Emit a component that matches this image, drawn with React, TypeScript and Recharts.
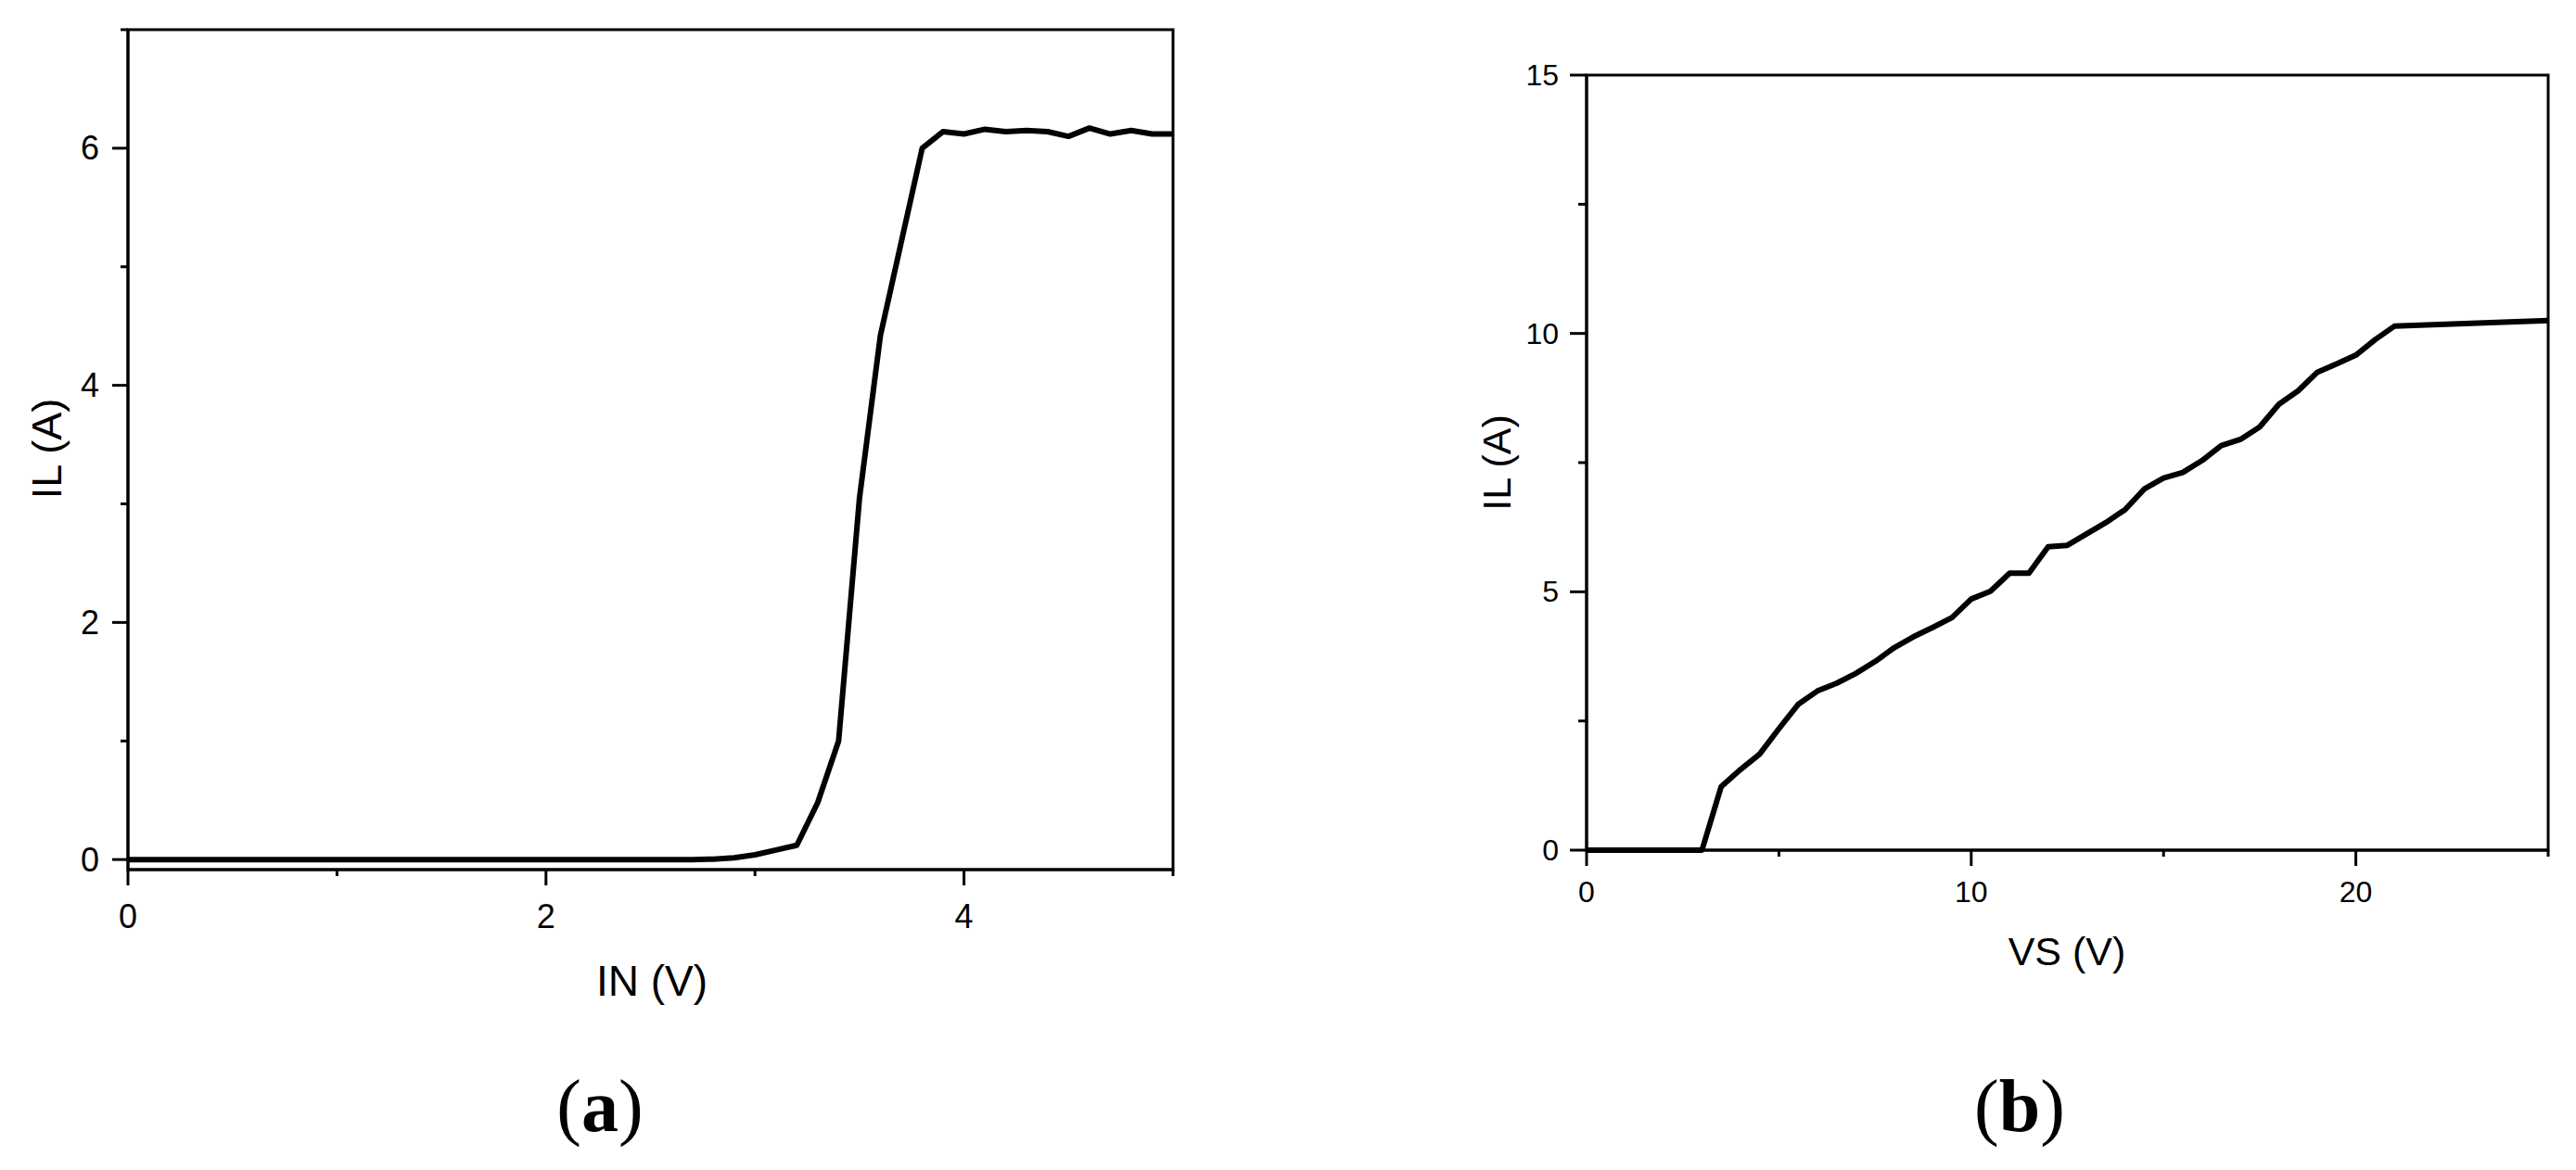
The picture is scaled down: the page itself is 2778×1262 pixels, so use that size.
import React from 'react';
import { LineChart, Line, XAxis, YAxis, ReferenceArea } from 'recharts';

// ---------- Data: panel (a) ----------
const inVoltage = [
  0, 0.1, 0.2, 0.3, 0.4, 0.5, 0.6, 0.7, 0.8, 0.9,
  1.0, 1.1, 1.2, 1.3, 1.4, 1.5, 1.6, 1.7, 1.8, 1.9,
  2.0, 2.1, 2.2, 2.3, 2.4, 2.5, 2.6, 2.7, 2.8, 2.9,
  3.0, 3.1, 3.2, 3.3, 3.4, 3.5, 3.6, 3.7, 3.8, 3.9,
  4.0, 4.1, 4.2, 4.3, 4.4, 4.5, 4.6, 4.7, 4.8, 4.9, 5.0,
];
const loadCurrentA = [
  0, 0, 0, 0, 0, 0, 0, 0, 0, 0,
  0, 0, 0, 0, 0, 0, 0, 0, 0, 0,
  0, 0, 0, 0, 0, 0, 0, 0, 0.003, 0.015,
  0.04, 0.08, 0.12, 0.48, 1.0, 3.05, 4.42, 5.21, 6.0, 6.14,
  6.12, 6.16, 6.14, 6.15, 6.14, 6.1, 6.17, 6.12, 6.15, 6.12, 6.12,
];
const aXTicks = [0, 1, 2, 3, 4, 5];
const aXLabeled = [0, 2, 4];
const aYTicks = [0, 1, 2, 3, 4, 5, 6, 7];
const aYLabeled = [0, 2, 4, 6];

// ---------- Data: panel (b) ----------
const supplyVoltage = [
  0, 0.5, 1, 1.5, 2, 2.5, 3, 3.5, 4, 4.5, 5, 5.5, 6, 6.5, 7, 7.5, 8, 8.5, 9, 9.5,
  10, 10.5, 11, 11.5, 12, 12.5, 13, 13.5, 14, 14.5, 15, 15.5, 16, 16.5, 17, 17.5,
  18, 18.5, 19, 19.5, 20, 20.5, 21, 25,
];
const loadCurrentB = [
  0, 0, 0, 0, 0, 0, 0, 1.23, 1.56, 1.86, 2.35, 2.82, 3.08, 3.23, 3.42, 3.65, 3.92, 4.13, 4.31, 4.5,
  4.86, 5.01, 5.36, 5.36, 5.87, 5.9, 6.12, 6.34, 6.59, 6.99, 7.2, 7.31, 7.54, 7.83, 7.95, 8.19,
  8.63, 8.89, 9.25, 9.41, 9.58, 9.88, 10.14, 10.25,
];
const bXTicks = [0, 5, 10, 15, 20, 25];
const bXLabeled = [0, 10, 20];
const bYTicks = [0, 2.5, 5, 7.5, 10, 12.5, 15];
const bYLabeled = [0, 5, 10, 15];

const dataA = inVoltage.map((x, i) => ({ x, y: loadCurrentA[i] }));
const dataB = supplyVoltage.map((x, i) => ({ x, y: loadCurrentB[i] }));

const SANS = '"Liberation Sans", Arial, sans-serif';
const SERIF = '"Liberation Serif", "Times New Roman", serif';

const makeXTick = (labeled: number[], fontSize: number, labelDy: number) => (props: any) => {
  const { x, y, payload } = props;
  const v = payload.value;
  const major = labeled.includes(v);
  return (
    <g>
      <line x1={x} x2={x} y1={y} y2={y + (major ? 17 : 7)} stroke="#000" strokeWidth={3} />
      {major && (
        <text x={x} y={y + labelDy} textAnchor="middle" dominantBaseline="central" fontSize={fontSize} fontFamily={SANS} fill="#000">
          {v}
        </text>
      )}
    </g>
  );
};

const makeYTick = (labeled: number[], fontSize: number, labelDx: number, majorLen: number, minorLen: number) => (props: any) => {
  const { x, y, payload } = props;
  const v = payload.value;
  const major = labeled.includes(v);
  return (
    <g>
      <line x1={x} x2={x - (major ? majorLen : minorLen)} y1={y} y2={y} stroke="#000" strokeWidth={3} />
      {major && (
        <text x={x - labelDx} y={y} textAnchor="end" dominantBaseline="central" fontSize={fontSize} fontFamily={SANS} fill="#000">
          {v}
        </text>
      )}
    </g>
  );
};

const TextAt = ({ x, y, size, rotate, family, bold, children }: any) => (
  <div
    style={{
      position: 'absolute',
      left: x,
      top: y,
      transform: `translate(-50%, -50%)${rotate ? ' rotate(-90deg)' : ''}`,
      fontFamily: family,
      fontSize: size,
      fontWeight: bold ? 'bold' : 'normal',
      lineHeight: 1,
      whiteSpace: 'nowrap',
      color: '#000',
    }}
  >
    {children}
  </div>
);

export default function App() {
  const aYMin = -0.085;
  return (
    <div style={{ position: 'absolute', left: 0, top: 0, width: 2778, height: 1262, background: '#fff', overflow: 'hidden' }}>
      {/* Panel (a) */}
      <div style={{ position: 'absolute', left: 0, top: 0 }}>
        <LineChart width={1300} height={1262} data={dataA} margin={{ top: 32, right: 35, left: 0, bottom: 264 }}>
          <XAxis
            dataKey="x"
            type="number"
            domain={[0, 5]}
            ticks={aXTicks}
            interval={0}
            height={60}
            tickSize={0}
            tickMargin={0}
            tickLine={false}
            axisLine={{ stroke: '#000', strokeWidth: 3 }}
            tick={makeXTick(aXLabeled, 36, 50)}
          />
          <YAxis
            type="number"
            domain={[aYMin, 7]}
            ticks={aYTicks}
            interval={0}
            width={138}
            tickSize={0}
            tickMargin={0}
            tickLine={false}
            axisLine={{ stroke: '#000', strokeWidth: 3 }}
            tick={makeYTick(aYLabeled, 36, 31, 17, 8)}
          />
          <ReferenceArea x1={0} x2={5} y1={aYMin} y2={7} fill="none" fillOpacity={0} stroke="#000" strokeWidth={3} />
          <Line type="linear" dataKey="y" stroke="#000" strokeWidth={6} dot={false} isAnimationActive={false} strokeLinejoin="round" />
        </LineChart>
      </div>

      {/* Panel (b) */}
      <div style={{ position: 'absolute', left: 1500, top: 0 }}>
        <LineChart width={1278} height={1262} data={dataB} margin={{ top: 81, right: 30, left: 0, bottom: 285 }}>
          <XAxis
            dataKey="x"
            type="number"
            domain={[0, 25]}
            ticks={bXTicks}
            interval={0}
            height={60}
            tickSize={0}
            tickMargin={0}
            tickLine={false}
            axisLine={{ stroke: '#000', strokeWidth: 3 }}
            tick={makeXTick(bXLabeled, 32, 45)}
          />
          <YAxis
            type="number"
            domain={[0, 15]}
            ticks={bYTicks}
            interval={0}
            width={211}
            tickSize={0}
            tickMargin={0}
            tickLine={false}
            axisLine={{ stroke: '#000', strokeWidth: 3 }}
            tick={makeYTick(bYLabeled, 32, 30, 18, 9)}
          />
          <ReferenceArea x1={0} x2={25} y1={0} y2={15} fill="none" fillOpacity={0} stroke="#000" strokeWidth={3} />
          <Line type="linear" dataKey="y" stroke="#000" strokeWidth={6} dot={false} isAnimationActive={false} strokeLinejoin="round" />
        </LineChart>
      </div>

      {/* Axis titles and panel labels */}
      <TextAt x={50} y={484} size={45} rotate family={SANS}>IL (A)</TextAt>
      <TextAt x={703} y={1058} size={46} family={SANS}>IN (V)</TextAt>
      <TextAt x={647} y={1193} size={80} family={SERIF}>(<b>a</b>)</TextAt>

      <TextAt x={1614} y={499} size={43} rotate family={SANS}>IL (A)</TextAt>
      <TextAt x={2229} y={1026} size={43} family={SANS}>VS (V)</TextAt>
      <TextAt x={2178} y={1193} size={80} family={SERIF}>(<b>b</b>)</TextAt>
    </div>
  );
}
